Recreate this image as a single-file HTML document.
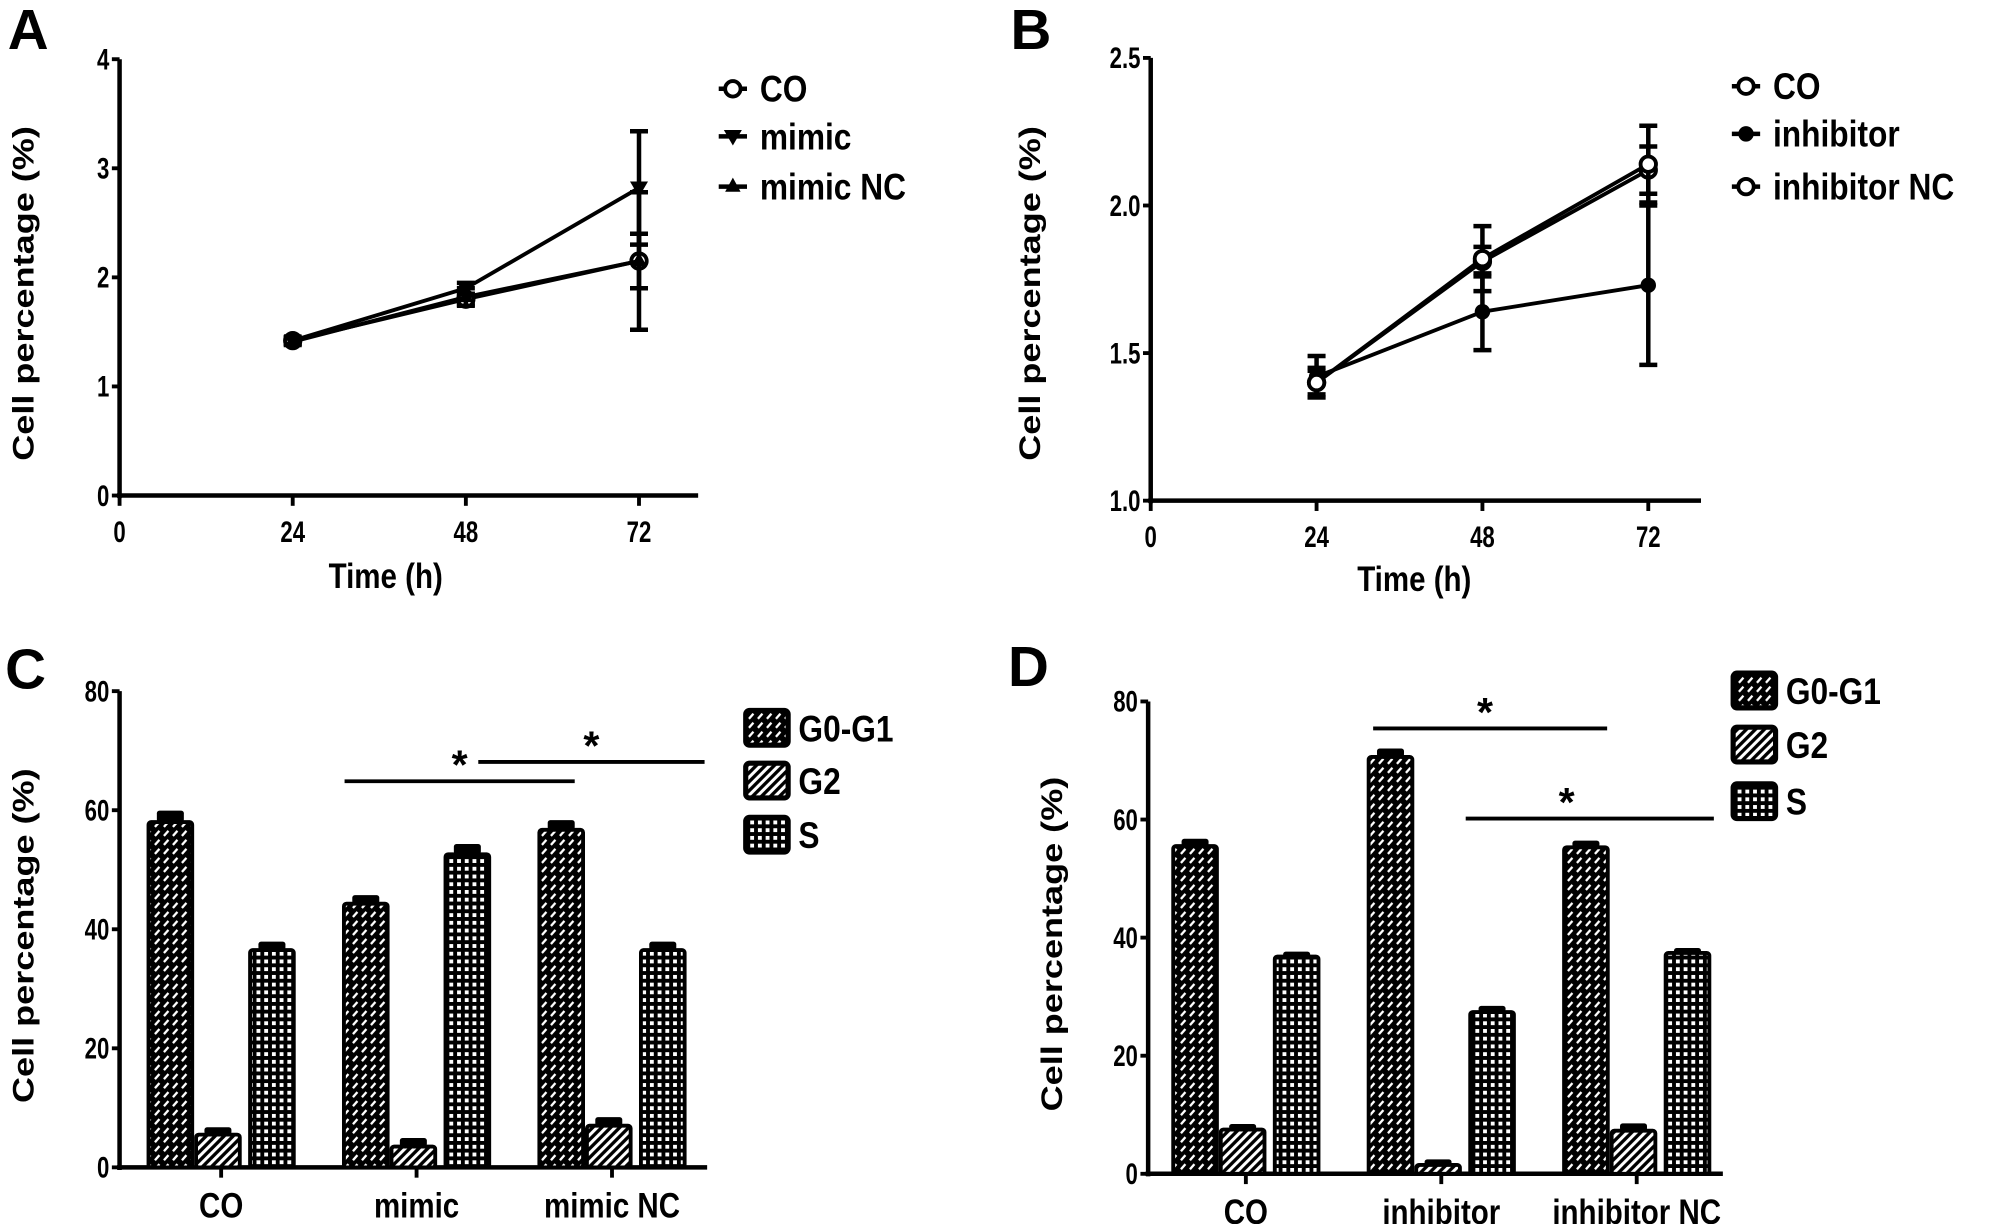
<!DOCTYPE html>
<html><head><meta charset="utf-8"><style>
html,body{margin:0;padding:0;background:#fff;}
svg{display:block;}
text{font-family:"Liberation Sans",sans-serif;font-weight:bold;fill:#000;}
</style></head><body>
<svg id="fig" width="2016" height="1224" viewBox="0 0 1568 951" preserveAspectRatio="none" xmlns="http://www.w3.org/2000/svg">
<defs>
<pattern id="pG0" width="7" height="7" patternUnits="userSpaceOnUse"><rect width="7" height="7" fill="#000"/><line x1="1.5" y1="5.5" x2="5" y2="1.5" stroke="#fff" stroke-width="1.8"/></pattern>
<pattern id="pG2" width="7" height="7" patternUnits="userSpaceOnUse"><rect width="7" height="7" fill="#fff"/><line x1="-1" y1="8" x2="8" y2="-1" stroke="#000" stroke-width="2.6"/><line x1="-1" y1="1" x2="1" y2="-1" stroke="#000" stroke-width="2.6"/><line x1="6" y1="8" x2="8" y2="6" stroke="#000" stroke-width="2.6"/></pattern>
<pattern id="pS" width="6" height="6" patternUnits="userSpaceOnUse"><rect width="6" height="6" fill="#000"/><rect x="1.5" y="1.5" width="3" height="3" fill="#fff"/></pattern>
</defs>
<g id="root"></g>
</svg>
<script>
// ---- Panel A data ----
const timesA = [24, 48, 72];
const seriesNamesA = ["CO", "mimic", "mimic NC"];
const coA = [1.42, 1.80, 2.15];
const coErrA = [0.03, 0.05, 0.25];
const mimicA = [1.42, 1.90, 2.82];
const mimicErrA = [0.03, 0.05, 0.52];
const mimicNcA = [1.41, 1.82, 2.15];
const mimicNcErrA = [0.03, 0.08, 0.63];
const yTicksA = [0, 1, 2, 3, 4];
const xTicksA = [0, 24, 48, 72];
// ---- Panel B data ----
const timesB = [24, 48, 72];
const seriesNamesB = ["CO", "inhibitor", "inhibitor NC"];
const coB = [1.40, 1.81, 2.12];
const coErrB = [0.04, 0.05, 0.08];
const inhB = [1.42, 1.64, 1.73];
const inhErrB = [0.07, 0.13, 0.27];
const inhNcB = [1.40, 1.82, 2.14];
const inhNcErrB = [0.05, 0.11, 0.13];
const yTicksB = [1.0, 1.5, 2.0, 2.5];
const xTicksB = [0, 24, 48, 72];
// ---- Panel C data ----
const catsC = ["CO", "mimic", "mimic NC"];
const g0C = [58.0, 44.3, 56.7];
const g0ErrC = [1.5, 1.0, 1.2];
const g2C = [5.5, 3.5, 7.0];
const g2ErrC = [0.8, 1.0, 1.0];
const sC = [36.5, 52.6, 36.5];
const sErrC = [1.0, 1.3, 1.0];
const yTicksC = [0, 20, 40, 60, 80];
// ---- Panel D data ----
const catsD = ["CO", "inhibitor", "inhibitor NC"];
const g0D = [55.5, 70.6, 55.3];
const g0ErrD = [0.8, 1.0, 0.7];
const g2D = [7.5, 1.5, 7.3];
const g2ErrD = [0.5, 0.5, 0.8];
const sD = [36.8, 27.4, 37.4];
const sErrD = [0.4, 0.6, 0.4];
const yTicksD = [0, 20, 40, 60, 80];
const phaseNames = ["G0-G1", "G2", "S"];

const NS = "http://www.w3.org/2000/svg";
const root = document.getElementById("root");
function mk(tag, attrs, parent) {
  const e = document.createElementNS(NS, tag);
  for (const k in attrs) e.setAttribute(k, attrs[k]);
  (parent || root).appendChild(e);
  return e;
}
function txt(s, x, y, size, parent, anchor) {
  const t = mk("text", {x: x, y: y, "font-size": size, "text-anchor": anchor || "middle"}, parent);
  t.textContent = s;
  return t;
}
function narrow(s, x, y, size, parent, anchor, sx) {
  const g = mk("g", {transform: "translate(" + x + "," + y + ") scale(" + sx + ",1)"}, parent);
  const t = txt(s, 0, 0, size, g, anchor);
  return t;
}

function panelLetter(s, x, y) {
  const t = txt(s, x, y, 44, root, "start");
  
  
}

function axesLine(g, ax, ay0, ayTop, axEnd, yTicks, yFn, yFmt, xTicks, xFn, name) {
  const ya = mk("line", {x1: ax, y1: ay0 + 2, x2: ax, y2: ayTop, stroke: "#000", "stroke-width": 3.5}, g);
  
  
  const xa = mk("line", {x1: ax - 2, y1: ay0, x2: axEnd, y2: ay0, stroke: "#000", "stroke-width": 3.5}, g);
  
  
  yTicks.forEach(v => {
    const y = yFn(v);
    mk("line", {x1: ax - 6, y1: y, x2: ax, y2: y, stroke: "#000", "stroke-width": 3}, g);
    const t = narrow(yFmt(v), ax - 8, y + 8, 23, g, "end", 0.75);
    
    
  });
  if (xTicks) xTicks.forEach(v => {
    const x = xFn(v);
    mk("line", {x1: x, y1: ay0, x2: x, y2: ay0 + 8, stroke: "#000", "stroke-width": 3}, g);
    const t = narrow(String(v), x, ay0 + 36, 23, g, "middle", 0.75);
    
    
  });
}

function yTitle(g, x, yc, len, name) {
  const t = mk("text", {x: 0, y: 0, "font-size": 23, "text-anchor": "middle", transform: "translate(" + x + "," + yc + ") rotate(-90)", textLength: len, lengthAdjust: "spacingAndGlyphs"}, g);
  t.textContent = "Cell percentage (%)";
  
  
}

function marker(g, kind, x, y) {
  if (kind === 0) mk("circle", {cx: x, cy: y, r: 6, fill: "#fff", stroke: "#000", "stroke-width": 3}, g);
  else if (kind === 1) mk("path", {d: "M" + (x - 7) + "," + (y - 5) + " L" + (x + 7) + "," + (y - 5) + " L" + x + "," + (y + 7) + "Z", fill: "#000"}, g);
  else if (kind === 2) mk("path", {d: "M" + (x - 6) + "," + (y + 4) + " L" + (x + 6) + "," + (y + 4) + " L" + x + "," + (y - 7) + "Z", fill: "#000"}, g);
  else if (kind === 3) mk("circle", {cx: x, cy: y, r: 6, fill: "#000"}, g);
}

function linePanel(name, times, series, errs, kinds, xFn, yFn, names, legX, legYs) {
  const g = mk("g", {});
  
  
  series.forEach((vals, si) => {
    const pts = vals.map((v, i) => xFn(times[i]) + "," + yFn(v)).join(" ");
    const pl = mk("polyline", {points: pts, fill: "none", stroke: "#000", "stroke-width": 3}, g);
    
    
    vals.forEach((v, i) => {
      const x = xFn(times[i]);
      const e = errs[si][i];
      const eb = mk("path", {d: "M" + x + "," + yFn(v + e) + " L" + x + "," + yFn(v - e) + " M" + (x - 7) + "," + yFn(v + e) + " L" + (x + 7) + "," + yFn(v + e) + " M" + (x - 7) + "," + yFn(v - e) + " L" + (x + 7) + "," + yFn(v - e), stroke: "#000", "stroke-width": 3.5, fill: "none"}, g);
      
      
      marker(g, kinds[si], x, yFn(v));
    });
  });
  names.forEach((n, i) => {
    const lg = mk("g", {});
    
    
    const y = legYs[i];
    mk("line", {x1: legX, y1: y, x2: legX + 22, y2: y, stroke: "#000", "stroke-width": 3.5}, lg);
    marker(lg, kinds[i], legX + 11, y);
    narrow(n, legX + 32, y + 10, 29, lg, "start", 0.85);
  });
}

// ===== Panel A =====
{
  const xA = t => 93 + t * (497 - 93) / 72;
  const yA = v => 385 - v * (385 - 46) / 4;
  const g = mk("g", {});
  
  
  axesLine(g, 93, 385, 46, 543, yTicksA, yA, v => String(v), xTicksA, xA, 'panel-a');
  const xt = narrow("Time (h)", 300, 457, 27, g, "middle", 0.85);
  
  
  yTitle(g, 26, 228, 260, 'panel-a');
  panelLetter("A", 6, 38);
  linePanel('panel-a', timesA, [coA, mimicA, mimicNcA], [coErrA, mimicErrA, mimicNcErrA], [0, 1, 2], xA, yA, seriesNamesA, 559, [69, 106, 145]);
}
// ===== Panel B =====
{
  const xB = t => 895 + t * (1282 - 895) / 72;
  const yB = v => 389 - (v - 1) * (389 - 45) / 1.5;
  const g = mk("g", {});
  
  
  axesLine(g, 895, 389, 45, 1323, yTicksB, yB, v => v.toFixed(1), xTicksB, xB, 'panel-b');
  const xt = narrow("Time (h)", 1100, 459, 27, g, "middle", 0.85);
  
  
  yTitle(g, 809, 228, 260, 'panel-b');
  panelLetter("B", 786, 38);
  linePanel('panel-b', timesB, [coB, inhB, inhNcB], [coErrB, inhErrB, inhNcErrB], [0, 3, 0], xB, yB, seriesNamesB, 1347, [67, 104, 145]);
}

function barPanel(name, cats, vals, errs, starts, ax, y0, y80, axEnd, yTicks, legX, legYs, sig) {
  const yFn = v => y0 - v * (y0 - y80) / 80;
  const g = mk("g", {});
  
  
  axesLine(g, ax, y0, y80, axEnd, yTicks, yFn, v => String(v), null, null, name);
  yTitle(g, ax - 67, (y0 + y80) / 2 + 5, 260, name);
  const fills = ["url(#pG0)", "url(#pG2)", "url(#pS)"];
  const offs = [0, 37, 79];
  const w = 37;
  cats.forEach((c, ci) => {
    const cx = starts[ci] + 58;
    mk("line", {x1: cx, y1: y0, x2: cx, y2: y0 + 8, stroke: "#000", "stroke-width": 3}, g);
    const t = narrow(c, cx, y0 + 39, 27, g, "middle", 0.85);
    
    
  });
  const bg = mk("g", {});
  
  
  vals.forEach((series, si) => {
    series.forEach((v, ci) => {
      const x = starts[ci] + offs[si];
      const top = yFn(v);
      const b = mk("rect", {x: x + 1.5, y: top, width: w - 3, height: y0 - top, fill: fills[si], stroke: "#000", "stroke-width": 3, rx: 2}, bg);
      
      
      const eTop = yFn(v + errs[si][ci]);
      const cap = mk("rect", {x: x + 8, y: eTop - 2, width: w - 16, height: Math.max(top - eTop + 2, 4), fill: "#000", rx: 2}, bg);
      
      
    });
  });
  sig.forEach(s => {
    const sl = mk("line", {x1: s[0], y1: s[2], x2: s[1], y2: s[2], stroke: "#000", "stroke-width": 3}, g);
    
    
    const st = txt("*", (s[0] + s[1]) / 2 + s[3], s[2] - 2, 32, g);
    
    
  });
  phaseNames.forEach((p, i) => {
    const lg = mk("g", {});
    
    
    mk("rect", {x: legX, y: legYs[i] - 13, width: 33, height: 27, fill: fills[i], stroke: "#000", "stroke-width": 4, rx: 3}, lg);
    narrow(p, legX + 41, legYs[i] + 11, 29, lg, "start", 0.85);
  });
}

barPanel('panel-c', catsC, [g0C, g2C, sC], [g0ErrC, g2ErrC, sErrC], [114, 266, 418], 93, 907, 537, 550, yTicksC, 580, [565, 606, 648],
  [[268, 447, 607, 0], [372, 548, 592, 0]]);
panelLetter("C", 4, 535);
barPanel('panel-d', catsD, [g0D, g2D, sD], [g0ErrD, g2ErrD, sErrD], [911, 1063, 1215], 893, 912, 545, 1340, yTicksD, 1348, [536, 578, 622],
  [[1068, 1250, 566, -4], [1140, 1333, 636, -18]]);
panelLetter("D", 784, 533);
</script>
</body></html>
